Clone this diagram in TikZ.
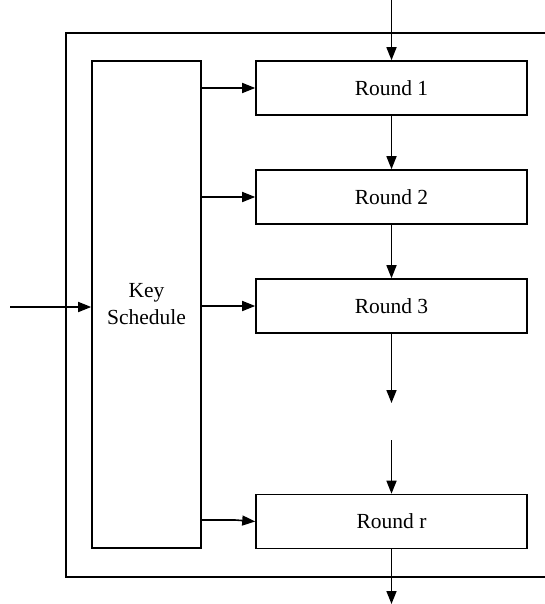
\documentclass[tikz,border=0pt]{standalone}
\usepackage{fontspec}
\setmainfont{Liberation Serif}
\usetikzlibrary{arrows.meta}
\begin{document}
\begin{tikzpicture}[x=1pt,y=-1pt,
  blk/.style={draw,line width=1.6pt,minimum width=271pt,minimum height=54pt,inner sep=0pt,font=\fontsize{21.5}{26}\selectfont},
  ksbox/.style={draw,line width=1.6pt,minimum width=109pt,minimum height=487pt,inner sep=0pt,align=center,font=\fontsize{21.5}{27}\selectfont},
  arr/.style={line width=1.6pt,-{Triangle[length=13pt,width=10pt]}},
  ln/.style={line width=1.6pt}]
\useasboundingbox (0,0) rectangle (544,604);
% outer frame (right side outside the picture)
\draw[ln] (550,33) -- (66,33) -- (66,577) -- (550,577);
\node[ksbox] (ks) at (146.5,304.5) {Key\\Schedule};
\node[blk] (r1) at (391.5,88) {Round 1};
\node[blk] (r2) at (391.5,197) {Round 2};
\node[blk] (r3) at (391.5,306) {Round 3};
\node[blk] (rr) at (391.5,521.5) {Round r};
\coordinate (top) at (391.5,0);
\coordinate (bot) at (391.5,604);
\coordinate (in) at (10,307);
\coordinate (d1) at (391.5,403);
\coordinate (d2) at (391.5,440);
\draw[arr] (top) -- (r1.north);
\draw[arr] (r1) -- (r2);
\draw[arr] (r2) -- (r3);
\draw[arr] (r3.south) -- (d1);
\draw[arr] (d2) -- (rr.north);
\draw[arr] (rr.south) -- (bot);
\draw[arr] (in) -- (in -| ks.west);
\draw[arr] (ks.east |- r1.west) -- (r1.west);
\draw[arr] (ks.east |- r2.west) -- (r2.west);
\draw[arr] (ks.east |- r3.west) -- (r3.west);
\draw[arr] (ks.east |- 0,520) -- (235,520) -- (rr.west);
\end{tikzpicture}
\end{document}
